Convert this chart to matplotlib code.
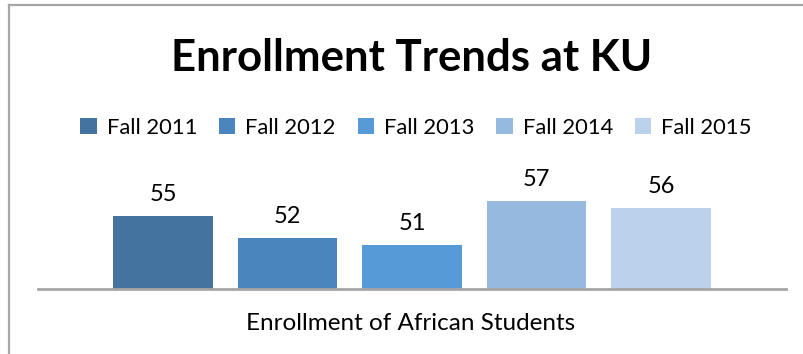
import matplotlib.pyplot as plt
from matplotlib.lines import Line2D

series = ["Fall 2011", "Fall 2012", "Fall 2013", "Fall 2014", "Fall 2015"]
values = [55, 52, 51, 57, 56]
category = "Enrollment of African Students"
colors = ["#44739f", "#4a86bd", "#569bd8", "#96b9e0", "#bcd1eb"]

plt.rcParams['font.family'] = ['Lato', 'DejaVu Sans']

W, H = 804, 354
fig = plt.figure(figsize=(W / 100, H / 100), dpi=100)
ax = fig.add_axes([38 / W, 65 / H, (786 - 38) / W, 110 / H])

for i, (s, v, c) in enumerate(zip(series, values, colors)):
    b = ax.bar(i, v, width=0.803, color=c, label=s, zorder=2)
    ax.bar_label(b, padding=8, fontsize=17, color="#000000")

ax.set_xlim(-1.004, 5.004)
ax.set_ylim(45, 60)
ax.set_xticks([])
ax.set_yticks([])
for side in ["left", "right", "top"]:
    ax.spines[side].set_visible(False)
ax.spines["bottom"].set_color("#a6a6a6")
ax.spines["bottom"].set_linewidth(2)

fig.text(412 / W, 1 - 58 / H, "Enrollment Trends at KU", ha="center", va="center",
         fontsize=31.5, fontweight="bold")
fig.text(411 / W, 1 - 323 / H, category, ha="center", va="center", fontsize=17.5)

fig.legend(loc="center", bbox_to_anchor=(416 / W, 1 - 128 / H), ncol=5, frameon=False,
           fontsize=15.8, handlelength=0.75, handleheight=0.75, handletextpad=0.45,
           columnspacing=1.0, borderpad=0)

# chart frame (left and top edges visible)
fig.add_artist(Line2D([9 / W, 9 / W], [0, 1 - 5 / H], color="#a6a6a6", lw=1.6,
                      transform=fig.transFigure))
fig.add_artist(Line2D([9 / W, 1], [1 - 5 / H, 1 - 5 / H], color="#a6a6a6", lw=1.6,
                      transform=fig.transFigure))

fig.savefig("out.png", dpi=100)
